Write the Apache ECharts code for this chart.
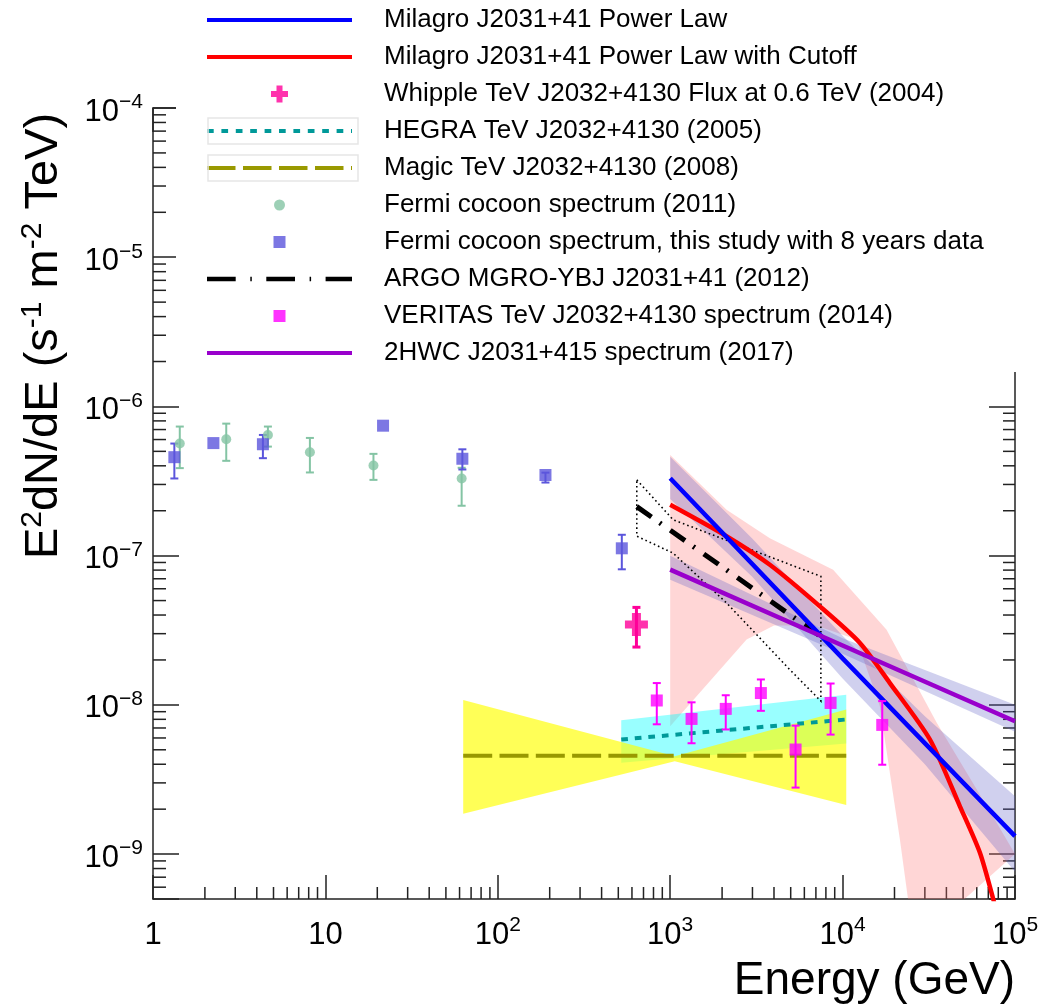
<!DOCTYPE html>
<html><head><meta charset="utf-8">
<script src="https://cdn.jsdelivr.net/npm/echarts@6/dist/echarts.min.js"></script>
<style>html,body{margin:0;padding:0;background:#fff}#c{width:1060px;height:1008px}</style>
</head><body><div id="c"></div>
<script>
// ================= DATA =================
const X_RANGE = [1, 1e5];
const Y_RANGE = [5e-10, 1e-4];
const X_MAJOR_LABELS = ['1', '10', '10^2', '10^3', '10^4', '10^5'];
const Y_MAJOR_LABELS = ['10^-9', '10^-8', '10^-7', '10^-6', '10^-5', '10^-4'];

// Fermi cocoon, this study (8 years)
const fermi8E  = [1.33, 2.24, 4.34, 21.6, 62.3, 189, 524];
const fermi8F  = [4.57e-7, 5.68e-7, 5.58e-7, 7.43e-7, 4.46e-7, 3.47e-7, 1.12e-7];
const fermi8Lo = [3.29e-7, null, 4.50e-7, null, 3.78e-7, 3.09e-7, 8.1e-8];
const fermi8Hi = [5.64e-7, null, 6.44e-7, null, 5.16e-7, 3.60e-7, 1.38e-7];

// Fermi cocoon (2011)
const fermi11E  = [1.43, 2.66, 4.64, 8.13, 19.0, 61.7];
const fermi11F  = [5.64e-7, 6.03e-7, 6.44e-7, 4.93e-7, 4.02e-7, 3.29e-7];
const fermi11Lo = [3.86e-7, 4.32e-7, 5.38e-7, 3.61e-7, 3.22e-7, 2.16e-7];
const fermi11Hi = [7.33e-7, 7.67e-7, 7.33e-7, 6.15e-7, 4.81e-7, 3.88e-7];

// VERITAS (2014)
const veritasE  = [836, 1330, 2100, 3357, 5336, 8517, 16980];
const veritasF  = [1.07e-8, 8.05e-9, 9.40e-9, 1.20e-8, 5.02e-9, 1.03e-8, 7.34e-9];
const veritasLo = [7.41e-9, 5.53e-9, 6.84e-9, 9.12e-9, 2.79e-9, 6.32e-9, 3.97e-9];
const veritasHi = [1.40e-8, 1.04e-8, 1.16e-8, 1.48e-8, 7.26e-9, 1.39e-8, 1.06e-8];

// Whipple (2004)
const whippleE  = [637];
const whippleF  = [3.46e-8];
const whippleLo = [2.44e-8];
const whippleHi = [4.50e-8];

// Milagro power law
const milPLE = [1000, 10000, 100000];
const milPLF = [3.30e-7, 2.05e-8, 1.32e-9];
const milPLBandE  = [1000, 3000, 10000, 30000, 100000];
const milPLBandHi = [4.6e-7, 1.3e-7, 2.9e-8, 8.4e-9, 2.44e-9];
const milPLBandLo = [2.4e-7, 7.2e-8, 1.5e-8, 4.0e-9, 7.6e-10];

// Milagro power law with cutoff
const milCutE = [1000, 2120, 3785, 7385, 12600, 18800, 32100, 47900, 62600, 74800, 80000];
const milCutF = [2.19e-7, 1.35e-7, 8.69e-8, 4.57e-8, 2.60e-8, 1.40e-8, 5.86e-9, 2.09e-9, 1.02e-9, 4.98e-10, 3.6e-10];
const milCutBandHiE = [1000, 2123, 3785, 8810, 17990, 35150, 78300, 100000];
const milCutBandHiF = [4.73e-7, 2.03e-7, 1.31e-7, 8.06e-8, 3.19e-8, 7.59e-9, 1.62e-9, 1.0e-9];
const milCutBandLoE = [1000, 2773, 4000, 7000, 12050, 16450, 18800, 21500, 26000];
const milCutBandLoF = [7.2e-9, 2.74e-8, 3.4e-8, 3.4e-8, 2.74e-8, 9.8e-9, 3.5e-9, 1.25e-9, 2.5e-10];

// 2HWC (2017)
const hawcE = [1000, 10000, 100000];
const hawcF = [8.06e-8, 2.5e-8, 7.76e-9];
const hawcBandHi = [1.0e-7, 2.8e-8, 1.0e-8];
const hawcBandLo = [6.9e-8, 2.2e-8, 6.6e-9];

// ARGO (2012)
const argoE = [640, 7480];
const argoF = [2.13e-7, 2.87e-8];
const argoBoxE = [640, 1040, 7480, 7480, 4945, 2123, 1040, 640];
const argoBoxF = [3.22e-7, 1.74e-7, 7.26e-8, 1.06e-8, 1.72e-8, 4.82e-8, 1.04e-7, 1.35e-7];

// HEGRA (2005)
const hegraE = [520, 10500];
const hegraF = [5.86e-9, 7.98e-9];
const hegraBandHi = [7.89e-9, 1.17e-8];
const hegraBandLo = [4.09e-9, 5.5e-9];

// MAGIC (2008)
const magicE = [63, 10500];
const magicF = [4.56e-9, 4.56e-9];
const magicBandE  = [63, 1063, 10500];
const magicBandHi = [1.08e-8, 4.53e-9, 9.31e-9];
const magicBandLo = [1.86e-9, 4.19e-9, 2.13e-9];

const NAMES = {
  milPL: 'Milagro J2031+41 Power Law',
  milCut: 'Milagro J2031+41 Power Law with Cutoff',
  whipple: 'Whipple TeV J2032+4130 Flux at 0.6 TeV (2004)',
  hegra: 'HEGRA TeV J2032+4130 (2005)',
  magic: 'Magic TeV J2032+4130 (2008)',
  fermi11: 'Fermi cocoon spectrum (2011)',
  fermi8: 'Fermi cocoon spectrum, this study with 8 years data',
  argo: 'ARGO MGRO-YBJ J2031+41 (2012)',
  veritas: 'VERITAS TeV J2032+4130 spectrum (2014)',
  hawc: '2HWC J2031+415 spectrum (2017)'
};
const COLORS = {
  milPL: '#0000ff', milCut: '#ff0000', whipple: '#ff0099', hegra: '#009999', magic: '#999900',
  fermi11: '#84c4a4', fermi8: '#5b55dc', argo: '#000000', veritas: '#ff00ff', hawc: '#9900cc'
};
const BAND_FILLS = {
  pink: 'rgba(255,120,120,0.30)',
  blue: 'rgba(100,100,200,0.30)',
  cyan: 'rgba(0,255,255,0.40)',
  yellow: 'rgba(255,255,0,0.66)'
};

// ================= HELPERS =================
const FONT = 'Liberation Sans';
const pairs = (E, F) => E.map((e, i) => [e, F[i]]);

function bandSeries(name, upper, lower, fill, z) {
  return {
    type: 'custom', name, z, clip: true, silent: true, data: [upper[0]],
    renderItem: (params, api) => {
      const pts = upper.map(p => api.coord(p)).concat(lower.slice().reverse().map(p => api.coord(p)));
      return { type: 'polygon', shape: { points: pts }, style: { fill: fill } };
    }
  };
}
function outlineSeries(name, pts, z) {
  return {
    type: 'custom', name, z, clip: true, silent: true, data: [pts[0]],
    renderItem: (params, api) => ({
      type: 'polygon', shape: { points: pts.map(p => api.coord(p)) },
      style: { fill: null, stroke: '#000', lineWidth: 1.6, lineDash: [1.6, 3] }
    })
  };
}
function errorSeries(name, E, F, lo, hi, color, width, cap, z) {
  const data = [];
  E.forEach((e, i) => { if (lo[i] != null && hi[i] != null) data.push([e, F[i], lo[i], hi[i]]); });
  return {
    type: 'custom', name, z, clip: true, silent: true, data,
    renderItem: (params, api) => {
      const x = api.value(0);
      const t = api.coord([x, api.value(3)]), b = api.coord([x, api.value(2)]);
      const st = { stroke: color, lineWidth: width };
      return { type: 'group', children: [
        { type: 'line', shape: { x1: t[0], y1: t[1], x2: b[0], y2: b[1] }, style: st },
        { type: 'line', shape: { x1: t[0] - cap, y1: t[1], x2: t[0] + cap, y2: t[1] }, style: st },
        { type: 'line', shape: { x1: b[0] - cap, y1: b[1], x2: b[0] + cap, y2: b[1] }, style: st }
      ]};
    }
  };
}
function lineSeries(key, E, F, width, dash, z, smooth) {
  return {
    type: 'line', name: NAMES[key], color: COLORS[key], z, silent: true, clip: true,
    data: pairs(E, F), symbol: 'none', showSymbol: false, smooth: smooth || false,
    lineStyle: { color: COLORS[key], width, type: dash || 'solid', cap: 'butt' }
  };
}
function scatterSeries(key, E, F, symbol, size, z) {
  return {
    type: 'scatter', name: NAMES[key], color: COLORS[key], z, silent: true,
    data: pairs(E, F), symbol, symbolSize: size, itemStyle: { color: COLORS[key] }
  };
}

// minor ticks (axis scaffolding)
const xMinor = [], yMinor = [];
for (let n = 0; n < 5; n++) for (let k = 2; k <= 9; k++) xMinor.push(k * Math.pow(10, n));
for (let n = -10; n < -4; n++) for (let k = 2; k <= 9; k++) {
  const v = k * Math.pow(10, n);
  if (v > Y_RANGE[0] * 1.0001 && v < Y_RANGE[1]) yMinor.push(v);
}
const tickStyle = { stroke: '#222', lineWidth: 1.5 };
const xMinorSeries = {
  type: 'custom', name: 'xminor', z: 1, silent: true, data: xMinor.map(v => [v, Y_RANGE[0]]),
  renderItem: (params, api) => {
    const cs = params.coordSys; const p = api.coord([api.value(0), api.value(1)]);
    const yb = cs.y + cs.height;
    return { type: 'line', shape: { x1: p[0], y1: yb, x2: p[0], y2: yb - 12 }, style: tickStyle };
  }
};
const yMinorSeries = {
  type: 'custom', name: 'yminor', z: 1, silent: true, data: yMinor.map(v => [X_RANGE[0], v]),
  renderItem: (params, api) => {
    const cs = params.coordSys; const p = api.coord([api.value(0), api.value(1)]);
    return { type: 'group', children: [
      { type: 'line', shape: { x1: cs.x, y1: p[1], x2: cs.x + 13, y2: p[1] }, style: tickStyle },
      { type: 'line', shape: { x1: cs.x + cs.width - 12, y1: p[1], x2: cs.x + cs.width, y2: p[1] }, style: tickStyle }
    ]};
  }
};

// label formatter from the tick label lists
function powLabel(list) {
  return function (v) {
    const e = Math.log10(v), n = Math.round(e);
    if (Math.abs(e - n) > 1e-6) return '';
    const lab = list.find(s => s === String(Math.pow(10, n)) || s === '10^' + n);
    if (!lab) return '';
    if (lab.indexOf('^') < 0) return '{b|' + lab + '}';
    const parts = lab.split('^');
    return '{b|' + parts[0] + '}{s|' + parts[1].replace('-', '\u2212') + '}';
  };
}
const richAxis = {
  b: { fontFamily: FONT, fontSize: 31, lineHeight: 40, color: '#000' },
  s: { fontFamily: FONT, fontSize: 21, lineHeight: 18, verticalAlign: 'top', color: '#000' }
};

// legend icons (paths sized to a 172x26 box; visible part 145 wide)
const IW = 172, IH = 26, SW = 145, CY = 13;
function iconPath(body) { return 'path://M0 0 M' + IW + ' ' + IH + ' ' + body; }
function rct(x0, y0, x1, y1) { return 'M' + x0 + ' ' + y0 + ' L' + x1 + ' ' + y0 + ' L' + x1 + ' ' + y1 + ' L' + x0 + ' ' + y1 + ' Z '; }
function dashIcon(segs, th) { return iconPath(segs.map(s => rct(s[0], CY - th / 2, s[1], CY + th / 2)).join('')); }
function periodic(dash, period) { const s = []; for (let x = 0; x < SW; x += period) s.push([x, Math.min(x + dash, SW)]); return s; }
const ICONS = {
  solid: dashIcon([[0, SW]], 4),
  hegra: dashIcon(periodic(6.7, 14.4), 4),
  magic: dashIcon(periodic(28.5, 36), 4),
  argo: dashIcon([[0, 28.7], [43.3, 44.8], [59.3, 88], [102.6, 104.1], [118.6, 145]], 4.5),
  square: iconPath(rct(66.5, CY - 6, 78.5, CY + 6)),
  circle: iconPath('M67 ' + CY + ' A5.5 5.5 0 1 1 78 ' + CY + ' A5.5 5.5 0 1 1 67 ' + CY + ' Z'),
  cross: iconPath('M69.5 4.5 L75.5 4.5 L75.5 10 L81 10 L81 16 L75.5 16 L75.5 21.5 L69.5 21.5 L69.5 16 L64 16 L64 10 L69.5 10 Z')
};
const crossSymbol = 'path://M7 0 L16 0 L16 7.5 L23 7.5 L23 15.5 L16 15.5 L16 23 L7 23 L7 15.5 L0 15.5 L0 7.5 L7 7.5 Z';

const legendItem = (key, icon) => ({ name: NAMES[key], icon, itemStyle: { color: COLORS[key], borderWidth: 0 } });

// ================= CHART =================
const chart = echarts.init(document.getElementById('c'), null, { renderer: 'canvas' });
const axisLineStyle = { color: '#222', width: 1.5 };
chart.setOption({
  animation: false,
  backgroundColor: '#fff',
  grid: { left: 153, right: 45, top: 108, bottom: 109, show: false, outerBoundsMode: 'none' },
  xAxis: [
    { type: 'log', logBase: 10, min: X_RANGE[0], max: X_RANGE[1], position: 'bottom', splitNumber: 5,
      axisLine: { show: true, lineStyle: axisLineStyle },
      axisTick: { show: true, inside: true, length: 24, lineStyle: axisLineStyle },
      minorTick: { show: false }, splitLine: { show: false },
      axisLabel: { show: true, margin: 16, formatter: powLabel(X_MAJOR_LABELS), rich: richAxis, showMinLabel: true, showMaxLabel: true } },
    { type: 'log', logBase: 10, min: X_RANGE[0], max: X_RANGE[1], position: 'top', splitNumber: 5,
      axisLine: { show: true, lineStyle: axisLineStyle },
      axisTick: { show: true, inside: true, length: 24, lineStyle: axisLineStyle },
      axisLabel: { show: false }, splitLine: { show: false } }
  ],
  yAxis: [
    { type: 'log', logBase: 10, min: Y_RANGE[0], max: Y_RANGE[1], position: 'left', splitNumber: 5,
      axisLine: { show: true, lineStyle: axisLineStyle },
      axisTick: { show: true, inside: true, length: 26, lineStyle: axisLineStyle },
      minorTick: { show: false }, splitLine: { show: false },
      axisLabel: { show: true, margin: 10, padding: [8, 0, 0, 0], formatter: powLabel(Y_MAJOR_LABELS), rich: richAxis, showMinLabel: true, showMaxLabel: true } },
    { type: 'log', logBase: 10, min: Y_RANGE[0], max: Y_RANGE[1], position: 'right', splitNumber: 5,
      axisLine: { show: true, lineStyle: axisLineStyle },
      axisTick: { show: true, inside: true, length: 26, lineStyle: axisLineStyle },
      axisLabel: { show: false }, splitLine: { show: false } }
  ],
  legend: {
    orient: 'vertical', left: 176, top: 0, padding: [7, 100, 6, 31], itemGap: 11,
    itemWidth: IW, itemHeight: IH, backgroundColor: '#fff', z: 20, selectedMode: false,
    itemStyle: { borderWidth: 0 }, symbolKeepAspect: true,
    textStyle: { fontFamily: FONT, fontSize: 26, color: '#000', lineHeight: 26 },
    data: [
      legendItem('milPL', ICONS.solid),
      legendItem('milCut', ICONS.solid),
      legendItem('whipple', ICONS.cross),
      legendItem('hegra', ICONS.hegra),
      legendItem('magic', ICONS.magic),
      legendItem('fermi11', ICONS.circle),
      legendItem('fermi8', ICONS.square),
      legendItem('argo', ICONS.argo),
      legendItem('veritas', ICONS.square),
      legendItem('hawc', ICONS.solid)
    ]
  },
  graphic: [
    { type: 'rect', z: 30, shape: { x: 208, y: 118, width: 150, height: 26 }, style: { fill: null, stroke: '#e6e6e6', lineWidth: 1.5 } },
    { type: 'rect', z: 30, shape: { x: 208, y: 155, width: 150, height: 26 }, style: { fill: null, stroke: '#e6e6e6', lineWidth: 1.5 } },
    { type: 'text', z: 40, x: 44, y: 336, rotation: Math.PI / 2,
      style: { text: '{b|E}{s|2}{b|dN/dE (s}{s|-1}{b| m}{s|-2}{b| TeV)}', align: 'center', verticalAlign: 'middle',
        rich: { b: { fontFamily: FONT, fontSize: 47, lineHeight: 52, fill: '#000' },
                s: { fontFamily: FONT, fontSize: 30, lineHeight: 22, verticalAlign: 'top', fill: '#000' } } } },
    { type: 'text', z: 40, x: 1015, y: 981,
      style: { text: 'Energy (GeV)', fontFamily: FONT, fontSize: 46, fill: '#000', align: 'right', verticalAlign: 'middle' } }
  ],
  series: [
    xMinorSeries, yMinorSeries,
    bandSeries('milCutBand', pairs(milCutBandHiE, milCutBandHiF), pairs(milCutBandLoE, milCutBandLoF), BAND_FILLS.pink, 2),
    bandSeries('milPLBand', pairs(milPLBandE, milPLBandHi), pairs(milPLBandE, milPLBandLo), BAND_FILLS.blue, 2),
    bandSeries('hawcBand', pairs(hawcE, hawcBandHi), pairs(hawcE, hawcBandLo), BAND_FILLS.blue, 2),
    bandSeries('hegraBand', pairs(hegraE, hegraBandHi), pairs(hegraE, hegraBandLo), BAND_FILLS.cyan, 2),
    bandSeries('magicBand', pairs(magicBandE, magicBandHi), pairs(magicBandE, magicBandLo), BAND_FILLS.yellow, 2),
    outlineSeries('argoBox', pairs(argoBoxE, argoBoxF), 3),
    lineSeries('hegra', hegraE, hegraF, 4, [6.7, 6.9], 3),
    lineSeries('magic', magicE, magicF, 4, [29, 7.3], 3),
    lineSeries('argo', argoE, argoF, 5, [18, 10, 2, 11], 3),
    lineSeries('milCut', milCutE, milCutF, 4.5, null, 4, 0.25),
    lineSeries('milPL', milPLE, milPLF, 4.5, null, 4),
    lineSeries('hawc', hawcE, hawcF, 4.5, null, 4),
    errorSeries('errFermi11', fermi11E, fermi11F, fermi11Lo, fermi11Hi, COLORS.fermi11, 2, 4, 5),
    errorSeries('errFermi8', fermi8E, fermi8F, fermi8Lo, fermi8Hi, COLORS.fermi8, 2, 4, 5),
    errorSeries('errVeritas', veritasE, veritasF, veritasLo, veritasHi, COLORS.veritas, 2, 4, 5),
    errorSeries('errWhipple', whippleE, whippleF, whippleLo, whippleHi, COLORS.whipple, 3, 4, 5),
    scatterSeries('fermi11', fermi11E, fermi11F, 'circle', 10, 6),
    scatterSeries('fermi8', fermi8E, fermi8F, 'rect', 12, 6),
    scatterSeries('veritas', veritasE, veritasF, 'rect', 12, 6),
    scatterSeries('whipple', whippleE, whippleF, crossSymbol, 23, 6)
  ]
});
</script></body></html>
